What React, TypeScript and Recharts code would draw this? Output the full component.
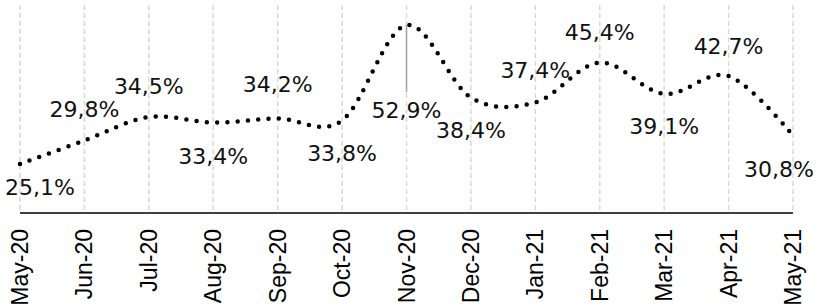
import { LineChart, Line, XAxis, YAxis, CartesianGrid, LabelList, ReferenceLine } from "recharts";

const months = ["May-20", "Jun-20", "Jul-20", "Aug-20", "Sep-20", "Oct-20", "Nov-20", "Dec-20", "Jan-21", "Feb-21", "Mar-21", "Apr-21", "May-21"];
const shares = [25.1, 29.8, 34.5, 33.4, 34.2, 33.8, 52.9, 38.4, 37.4, 45.4, 39.1, 42.7, 30.8];
const shareLabels = ["25,1%", "29,8%", "34,5%", "33,4%", "34,2%", "33,8%", "52,9%", "38,4%", "37,4%", "45,4%", "39,1%", "42,7%", "30,8%"];

// leader line under the Nov-20 peak
const leaderFrom = 52.9;
const leaderTo = 39.5;

const data = months.map((m, i) => ({ month: m, value: shares[i], label: shareLabels[i] }));

// where each value label sits relative to its point (dx, dy of the label centre)
const LABEL_OFFSETS: [number, number][] = [
  [20, 23], [0, -31], [0, -31], [0, 34], [0, -34], [0, 33], [0, 85],
  [0, 33], [0, -32], [0, -30], [0, 32], [0, -30], [-14, 34],
];

// Excel-like smooth line (Catmull-Rom through the points)
function smoothCurve(context: any) {
  let x0 = NaN, x1 = NaN, x2 = NaN, y0 = NaN, y1 = NaN, y2 = NaN, pt = 0;
  const k = 1 / 6;
  const seg = (x: number, y: number) => {
    context.bezierCurveTo(x1 + k * (x2 - x0), y1 + k * (y2 - y0), x2 + k * (x1 - x), y2 + k * (y1 - y), x2, y2);
  };
  return {
    areaStart() {},
    areaEnd() {},
    lineStart() {
      x0 = x1 = x2 = y0 = y1 = y2 = NaN;
      pt = 0;
    },
    lineEnd() {
      if (pt === 2) context.lineTo(x2, y2);
      else if (pt === 3) seg(x1, y1);
    },
    point(x: number, y: number) {
      switch (pt) {
        case 0:
          pt = 1;
          context.moveTo(x, y);
          break;
        case 1:
          pt = 2;
          x1 = x;
          y1 = y;
          break;
        case 2:
          pt = 3;
          seg(x, y);
          break;
        default:
          seg(x, y);
      }
      x0 = x1; x1 = x2; x2 = x;
      y0 = y1; y1 = y2; y2 = y;
    },
  };
}

const ValueLabel = (props: any) => {
  const { x, y, index } = props;
  const [dx, dy] = LABEL_OFFSETS[index] || [0, 0];
  return (
    <text
      x={x + dx}
      y={y + dy}
      dy="0.36em"
      textAnchor="middle"
      fontFamily="'DejaVu Sans', sans-serif"
      fontSize={22}
      fill="#111"
    >
      {shareLabels[index]}
    </text>
  );
};

const MonthTick = (props: any) => {
  const { x, payload } = props;
  const top = 229;
  return (
    <text
      transform={`translate(${x}, ${top}) rotate(-90)`}
      textAnchor="end"
      dominantBaseline="central"
      fontFamily="'Liberation Sans', Arial, sans-serif"
      fontSize={23}
      fill="#000"
    >
      {payload.value}
    </text>
  );
};

export default function App() {
  return (
    <div style={{ position: "absolute", left: 0, top: 0, width: 817, height: 308, background: "#fff" }}>
      <LineChart width={817} height={308} data={data} margin={{ top: 5, right: 24, left: 20, bottom: 5 }}>
        <CartesianGrid horizontal={false} stroke="#d9d9d9" strokeWidth={1.5} strokeDasharray="5 3" />
        <XAxis
          dataKey="month"
          interval={0}
          height={90}
          tickLine={false}
          axisLine={{ stroke: "#000", strokeWidth: 1.5 }}
          tick={<MonthTick />}
        />
        <YAxis hide domain={[15.3, 56.9]} />
        <ReferenceLine
          segment={[{ x: "Nov-20", y: leaderFrom }, { x: "Nov-20", y: leaderTo }]}
          stroke="#a6a6a6"
          strokeWidth={1.5}
        />
        <Line
          type={smoothCurve as any}
          dataKey="value"
          stroke="#000"
          strokeWidth={4.5}
          strokeDasharray="0 10.3"
          strokeLinecap="round"
          dot={false}
          activeDot={false}
          isAnimationActive={false}
        >
          <LabelList dataKey="value" content={<ValueLabel />} />
        </Line>
      </LineChart>
    </div>
  );
}
